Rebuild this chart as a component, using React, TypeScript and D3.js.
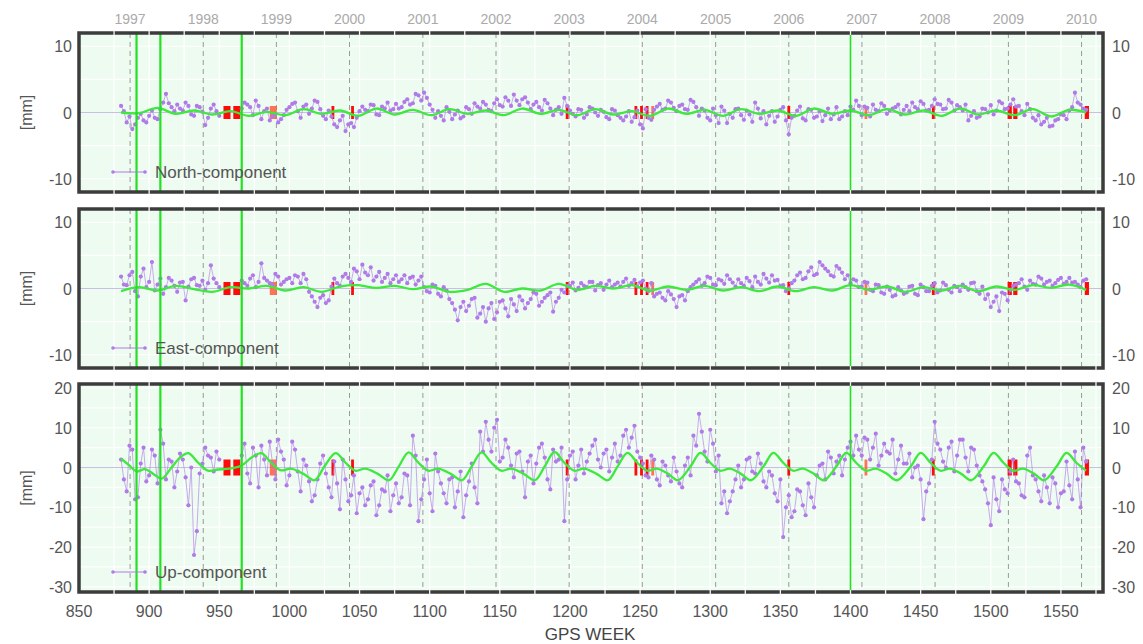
import React from "react";
import * as d3 from "d3";

// ---------- data ----------
// GPS weeks of the two interleaved sample sets
const weeksA = d3.range(880, 1569, 4);
const weeksB = d3.range(882, 1567, 4);

const northA = [
  1.0, -1.5, -2.5, -0.8, -1.2, -0.5, -0.8, 0.5, 2.8, 0.8,
  1.2, 0.3, 1.0, -0.5, 0.8, -1.9, 0.6, 0.2, null, null,
  null, null, 1.5, 0.8, 1.8, -1.0, 0.6, -0.6, -1.5, -0.4,
  0.8, 1.5, -0.8, 1.2, 0.6, 1.6, -0.5, 0.3, -1.8, -1.2,
  -2.8, -1.6, -0.8, 0.9, 0.2, 1.1, -0.4, 0.6, 0.3, 1.3,
  0.8, 2.0, 1.4, 2.6, 3.0, 1.2, -0.8, -0.5, 0.8, -1.0,
  0.3, -0.6, 0.5, 1.4, 0.6, 1.2, 0.2, 2.0, 0.9, 1.8,
  2.7, 1.1, 2.3, 0.5, 1.6, 0.3, 1.4, -0.4, 0.8, 2.2,
  0.3, -0.6, 0.4, -0.3, 0.6, -0.5, 0.1, -1.0, 0.3, -0.8,
  -0.6, -1.4, 0.3, -2.4, -0.8, 0.4, 1.3, 0.6, 1.5, 0.2,
  1.2, 0.4, 1.6, -0.5, 0.3, -1.2, -0.4, 0.9, -1.6, -0.8,
  0.6, -1.1, -0.3, 1.5, -0.9, -1.8, 0.2, -0.6, 0.8, -3.3,
  -0.5, 0.9, -1.2, 0.4, -0.6, -1.3, 0.6, -0.3, -1.0, 0.2,
  0.9, 1.8, -0.4, 0.7, 1.2, 0.2, 1.0, 0.3, 0.8, -0.3,
  1.0, 1.5, 0.5, 1.3, 0.4, 2.0, 1.2, 0.6, 1.5, 1.1,
  0.3, -1.2, 0.2, -0.6, 0.5, 1.1, 0.3, 1.4, 0.6, 2.0,
  1.0, -0.4, 0.5, -1.2, -1.8, -0.8, -2.0, -1.0, -0.4, 0.3,
  3.0, 1.2, 0.4,
];
const northB = [
  0.2, -0.6, -1.8, -0.2, -1.5, 0.3, -1.0, 1.5, 1.4, 0.2,
  0.6, 1.5, -0.3, 1.0, 0.1, -0.8, 1.2, -0.5, null, null,
  null, 0.6, 1.2, -0.4, 1.0, 0.2, -1.2, -0.2, -1.0, 0.4,
  1.3, 0.2, 0.9, -0.2, 1.8, 0.5, -1.0, -0.6, -2.2, -0.5,
  -1.8, -2.2, 0.2, 0.4, 1.2, -0.3, 0.9, 1.5, 0.5, 0.6,
  1.6, 1.2, 2.8, 1.8, 2.2, 0.4, 0.2, -1.2, 0.1, -0.3,
  -0.9, 0.8, -0.2, 0.9, 1.6, 0.4, 1.4, 1.1, 2.3, 1.0,
  1.8, 2.0, 1.5, 1.2, 0.8, 1.9, 0.6, 0.4, -0.2, 1.0,
  -0.2, 0.5, -0.8, 0.8, 0.0, 0.4, -0.7, 0.5, -0.4, -1.2,
  0.2, -0.7, -1.8, 0.5, -1.1, 0.9, 0.4, 1.8, 0.7, 1.0,
  0.5, 1.9, 0.8, 0.6, -0.8, 0.6, -1.6, 0.3, -0.2, 0.5,
  -0.4, 0.3, -1.4, 0.6, 0.2, -0.5, -1.4, 0.4, -1.2, -0.8,
  0.3, -0.9, 0.5, -0.8, 0.2, -0.4, -1.0, 0.8, -0.6, -0.4,
  0.4, 1.0, 0.9, -0.6, 0.4, 1.4, -0.2, 0.6, 1.2, 0.4,
  0.2, 0.8, 1.7, 0.3, 1.0, 1.3, 0.5, 1.9, 0.3, 0.8,
  1.2, -0.5, -0.8, 0.6, 0.0, -0.3, 1.7, 0.5, 1.2, 0.9,
  0.2, 1.3, -0.8, -0.4, -1.4, -2.1, -1.2, -0.3, -1.0, 0.8,
  1.5, 0.6,
];

const eastA = [
  1.8, 0.5, 2.5, -1.2, 3.0, 1.0, -0.3, 1.5, 0.2, 1.2,
  -0.5, 1.0, 0.3, 1.6, 0.4, -0.2, 3.5, 0.8, null, null,
  null, null, 0.8, 1.5, 0.2, 3.8, 1.2, 0.5, 1.8, 1.0,
  1.6, 2.0, 0.8, 1.4, -1.2, -2.8, -1.0, -1.8, 1.5, 0.4,
  2.2, 1.0, 2.6, 3.6, 2.0, 1.2, 2.5, 1.6, 0.8, 2.0,
  1.4, 0.8, 1.8, 1.2, 0.2, -0.6, 0.4, -1.2, -0.3, -2.2,
  -4.8, -2.0, -2.6, -1.4, -3.8, -5.0, -2.2, -3.6, -1.8, -4.2,
  -2.4, -1.2, -3.0, -1.6, -0.8, -2.0, -1.0, -3.5, -1.4, -0.6,
  0.4, -0.3, 0.8, 0.2, 1.0, 0.5, -0.2, 1.2, 0.6, 0.3,
  1.5, 0.8, 0.3, 1.2, -0.4, -1.2, -0.6, -1.8, -0.9, -2.8,
  -1.0, -0.4, 0.6, 1.4, 0.8, 1.6, 0.5, 1.2, 2.0, 0.9,
  1.4, 0.4, 1.1, 1.8, 0.6, 1.5, 2.0, 1.3, 0.5, 0.0,
  1.2, 2.4, 1.6, 3.2, 2.2, 3.5, 2.6, 1.8, 3.0, 1.4,
  0.8, 1.2, 0.3, 0.9, -0.4, 0.5, -0.8, -0.2, -1.0, -0.3,
  -0.6, 0.4, -1.0, 0.2, -0.4, 0.8, -0.3, 0.5, -0.6, 0.2,
  0.6, -0.2, 0.9, -0.8, -1.6, -2.8, -1.2, -0.6, -1.8, 0.4,
  0.8, 0.3, 1.2, 0.6, 1.5, 1.0, 0.4, 1.3, 0.7, 1.6,
  1.0, 0.2, 1.4,
];
const eastB = [
  0.6, 2.0, -0.4, 1.8, 0.2, 4.0, 0.6, -0.8, 1.6, 0.4,
  0.9, -1.8, 1.4, 0.5, 1.2, 0.8, 1.5, 0.2, null, null,
  null, 1.2, 0.4, 2.0, 1.0, 1.6, 0.8, 2.2, 0.6, 1.4,
  0.8, 1.8, 2.2, -0.5, -2.0, -1.4, -2.2, 0.3, 0.8, 1.8,
  1.6, 3.0, 1.4, 2.4, 3.2, 1.8, 1.0, 2.2, 1.4, 1.0,
  2.0, 1.6, 0.6, 1.8, -0.4, 0.6, -0.8, 0.2, -1.6, -3.2,
  -2.8, -3.4, -1.6, -4.4, -2.8, -3.0, -4.6, -2.0, -3.0, -1.6,
  -3.4, -1.8, -2.2, -0.6, -2.6, -1.4, -0.6, -2.0, -0.2, 0.4,
  0.9, 0.1, 0.4, 1.0, -0.3, 0.8, 0.6, 0.2, 0.9, 1.0,
  0.4, 1.3, 0.9, 0.0, 0.8, -0.8, -1.4, -0.4, -1.6, -1.2,
  -1.8, 0.2, 1.0, 0.4, 1.8, 0.6, 1.4, 0.7, 1.4, 0.3,
  0.8, 1.6, 0.2, 1.0, 2.2, 0.9, 1.2, 0.4, -0.4, 0.8,
  2.0, 1.4, 2.6, 2.0, 4.0, 3.0, 2.0, 3.4, 2.4, 2.0,
  1.4, 0.2, 1.0, -0.2, 0.6, -0.6, 0.3, -1.2, 0.2, -0.8,
  0.3, -0.8, 0.6, -0.4, 0.4, -0.6, 0.9, -0.2, 0.4, -0.4,
  0.2, 0.8, -0.4, 0.3, -0.9, -2.0, -3.4, -0.8, -0.2, 0.6,
  1.4, -0.2, 0.7, 1.8, 0.6, 1.2, 0.8, 1.6, 1.0, 0.9,
  0.6, 1.2,
];

const upA = [
  2.0, -6.0, 4.5, -7.5, 5.0, -2.0, 3.0, 9.5, -3.0, 1.5,
  -1.0, 2.0, -9.5, -22.0, -1.5, 5.0, 2.5, 4.0, null, null,
  null, null, 6.0, -4.0, 3.0, 5.5, -2.0, 1.0, 7.0, 2.0,
  -2.0, 4.5, -6.0, 0.5, -8.5, -3.0, 3.0, -5.0, 1.5, -10.5,
  -3.0, -7.0, -11.5, -5.0, -8.0, -3.5, -9.5, -6.0, -11.0, -4.0,
  -7.5, -2.0, 8.0, -13.5, -3.0, -6.5, 3.5, -4.0, -9.0, -2.5,
  -6.0, -12.5, -3.5, -5.0, 9.0, 11.5, 4.0, 12.0, 2.5, 5.0,
  -2.5, 4.0, -7.5, 3.0, 1.0, 6.0, -3.0, 4.5, 2.0, -13.5,
  3.0, -3.0, 4.5, 1.5, 5.5, 2.0, 3.5, -1.0, 6.0, 3.0,
  9.5, 7.5, 4.0, 1.0, -2.5, 2.0, -4.5, 0.5, -3.5, -1.0,
  -5.0, 2.5, 8.0, 13.5, 4.0, 9.5, -1.0, -9.0, -11.5, -6.0,
  0.5, -3.0, 2.5, -1.5, 1.0, -5.0, -2.0, -8.5, -17.5, -7.0,
  -11.0, -6.0, -12.0, -7.5, -2.0, 1.0, 4.0, -1.5, 3.0, 2.0,
  6.5, 8.0, 3.0, 7.0, 5.0, 0.5, 6.0, 3.5, -1.5, 5.5,
  1.0, -2.5, 0.5, -13.0, -4.0, 11.5, 4.5, 0.0, 6.5, 3.0,
  7.0, -1.0, 4.5, -2.0, -5.5, -14.5, -8.0, -3.0, -6.5, 2.0,
  -4.0, -7.5, 5.0, -3.0, -8.5, -5.0, -2.5, -10.0, -6.0, -4.5,
  4.0, -10.0, 1.5,
];
const upB = [
  -3.0, 5.5, -8.0, 1.0, -3.5, 4.5, -4.0, 6.0, 2.0, -5.0,
  3.5, -2.5, 0.0, -16.0, 1.0, 3.0, -1.0, 2.0, null, null,
  null, 3.0, -1.5, 5.0, -5.0, 2.0, 6.5, -3.0, 4.0, -4.5,
  6.5, -1.0, 2.0, -3.5, -7.0, 1.0, -1.5, -7.5, -4.0, 2.0,
  -8.5, -2.0, -6.5, -9.5, -4.5, -12.0, -5.5, -2.0, -7.0, -9.0,
  -1.5, -9.5, 3.0, -8.0, 2.0, -11.0, -1.0, -6.5, -3.0, -10.0,
  -1.0, -7.0, 1.0, -9.0, 4.0, 7.0, 10.0, 1.5, 7.0, 0.5,
  3.5, -1.0, 1.5, -4.0, 5.0, 2.5, -5.5, 1.5, 5.0, -3.0,
  4.0, 0.5, -1.5, 3.5, 7.0, 0.0, 4.5, 2.5, 1.5, 8.0,
  5.0, 10.5, 2.5, -2.0, 3.0, -3.0, 1.5, -2.0, 2.5, -4.0,
  0.5, -2.0, 5.5, 9.0, 1.5, 6.0, 3.0, -6.0, -8.5, -3.0,
  -5.0, 2.0, -1.0, 3.5, -3.5, -1.0, -6.5, -3.0, -10.0, -12.5,
  -5.5, -9.5, -4.0, -10.0, 0.5, -3.0, 2.5, 1.5, -2.0, 5.0,
  3.0, 4.5, 7.5, 2.0, 8.5, 3.0, 4.0, 7.0, 2.0, 1.0,
  3.5, 0.0, -3.0, -6.0, 2.0, 6.0, 1.5, 5.0, -1.0, 7.0,
  2.5, 5.0, 0.5, -3.5, -9.0, -2.5, -11.0, -5.5, -1.0, -3.5,
  -7.0, 3.0, -2.0, -6.0, -2.0, -9.0, -4.0, -6.5, 1.5, -8.0,
  -3.0, 5.0,
];

// seasonal model curves (knots)
const horizSeasonWeeks = [
  880, 893, 906, 919, 932, 945, 958, 971, 984, 997, 1010, 1023, 1036, 1049, 1062, 1075,
  1088, 1101, 1114, 1127, 1140, 1153, 1166, 1179, 1192, 1205, 1218, 1231, 1244, 1257,
  1270, 1283, 1296, 1309, 1322, 1335, 1348, 1361, 1374, 1387, 1400, 1413, 1426, 1439,
  1452, 1465, 1478, 1491, 1504, 1517, 1530, 1543, 1556, 1568,
];
const northSeason = [
  0.0, -0.1, 0.7, -0.2, 0.3, -0.3, 0.2, -0.5, 0.1, -0.4, 0.5, -0.2, 0.3, -0.5, 0.6, -0.3,
  0.4, -0.4, 0.5, -0.2, 0.3, -0.4, 0.6, -0.2, 0.4, -0.4, 0.5, -0.3, 0.2, -0.5,
  0.6, -0.2, 0.4, -0.5, 0.5, -0.2, 0.3, -0.5, 0.6, -0.2, 0.3, -0.4, 0.5, -0.3,
  0.3, -0.5, 0.6, -0.3, 0.3, -0.4, 0.5, -0.6, 0.4, 0.0,
];
const eastSeason = [
  -0.4, 0.2, -0.3, 0.4, -0.1, -0.5, 0.2, 0.0, 0.4, -0.3, 0.2, -0.5, 0.3, 0.5, 0.1, 0.4,
  -0.1, 0.3, -0.5, -0.2, 0.7, -0.5, 0.0, -0.3, 0.7, -0.2, 0.4, 0.0, 0.5, -0.3,
  0.3, -0.2, 0.4, -0.3, 0.2, -0.4, 0.3, -0.4, 0.2, -0.3, 0.5, -0.2, 0.3, -0.5,
  0.2, -0.3, 0.4, -0.4, 0.3, -0.2, 0.5, 0.1, 0.6, -0.2,
];
const upSeasonWeeks = [
  880, 886, 891, 897, 903, 909, 916, 922, 928, 935, 942, 949, 957, 966, 973, 980,
  987, 994, 1001, 1010, 1018, 1025, 1033, 1040, 1047, 1054, 1063, 1071, 1078, 1085,
  1092, 1099, 1106, 1115, 1123, 1130, 1137, 1144, 1151, 1158, 1167, 1175, 1182, 1189,
  1196, 1203, 1210, 1219, 1227, 1234, 1241, 1248, 1255, 1262, 1270, 1277, 1286, 1293,
  1300, 1307, 1314, 1322, 1329, 1338, 1345, 1352, 1359, 1366, 1374, 1381, 1390, 1397,
  1404, 1411, 1418, 1426, 1433, 1443, 1450, 1457, 1464, 1471, 1479, 1486, 1495, 1502,
  1509, 1516, 1523, 1531, 1538, 1547, 1554, 1561, 1568,
];
const upSeason = [
  2.2, 0.5, -1.0, -0.4, -1.6, -2.8, 0.0, 2.5, 3.6, 1.2, -0.8, -0.5, -0.3, 0.5, 2.5, 3.6,
  1.2, -0.7, -0.3, -1.6, -3.2, 0.3, 3.6, 1.2, -0.8, -0.3, -1.6, -3.2, 0.3, 3.8,
  1.2, -0.8, -0.3, -1.6, -3.2, 0.3, 3.8, 1.2, -0.8, -0.3, -1.6, -3.2, 0.3, 3.9,
  1.2, -0.8, -0.3, -1.6, -3.2, 0.3, 3.7, 1.2, -0.8, -0.3, -1.6, -3.2, 0.3, 3.7,
  1.2, -0.8, -0.3, -1.6, -3.2, 0.3, 3.7, 1.2, -0.8, -0.3, -1.6, -3.2, 0.3, 3.7,
  1.2, -0.8, -0.3, -1.6, -3.2, 0.3, 3.7, 1.2, -0.8, -0.3, -1.6, -3.2, 0.3, 3.7,
  1.2, -0.8, -0.3, -1.6, -3.2, 0.3, 3.7, 1.2, -0.8,
];

// discontinuities / events
const breakWeeks = [891, 908, 966, 1400];
const markerStart = [953, 960, 986, 1030, 1044, 1197, 1246, 1250, 1254, 1258, 1355, 1410, 1458, 1512, 1516, 1567];
const markerEnd = [958, 965, 991, 1032, 1046, 1199, 1248, 1252, 1256, 1260, 1357, 1412, 1460, 1515, 1519, 1570];
const markerLight = [false, false, true, false, false, false, false, false, false, true, false, true, false, false, false, false];

const yearLabels = [1997, 1998, 1999, 2000, 2001, 2002, 2003, 2004, 2005, 2006, 2007, 2008, 2009, 2010];
const xTicks = [850, 900, 950, 1000, 1050, 1100, 1150, 1200, 1250, 1300, 1350, 1400, 1450, 1500, 1550];
const horizTicks = [10, 0, -10];
const upTicks = [20, 10, 0, -10, -20, -30];

// ---------- layout ----------
const W = 1143, H = 644;
const X0 = 79, X1 = 1103;
const x = d3.scaleLinear().domain([850, 1580]).range([X0, X1]);
const gpsWeekOfYear = (y: number) => (Date.UTC(y, 0, 1) - Date.UTC(1980, 0, 6)) / (7 * 864e5);

type Pt = [number, number | null];
const merge = (a: (number | null)[], b: (number | null)[]): Pt[] =>
  [...weeksA.map((w, i) => [w, a[i]] as Pt), ...weeksB.map((w, i) => [w, b[i]] as Pt)].sort((p, q) => p[0] - q[0]);

const panels = [
  { name: "North-component", pts: merge(northA, northB), sw: horizSeasonWeeks, sv: northSeason, top: 33, bottom: 192, dom: [-12, 12], ticks: horizTicks, grid: d3.range(-10, 11, 5), mh: 13 },
  { name: "East-component", pts: merge(eastA, eastB), sw: horizSeasonWeeks, sv: eastSeason, top: 209, bottom: 368, dom: [-12, 12], ticks: horizTicks, grid: d3.range(-10, 11, 5), mh: 13 },
  { name: "Up-component", pts: merge(upA, upB), sw: upSeasonWeeks, sv: upSeason, top: 384, bottom: 592, dom: [-31.3, 21], ticks: upTicks, grid: d3.range(-30, 21, 5), mh: 16 },
];

const PURPLE = "#b07ae8";
const GREEN = "#3ee83e";
const FONT = "'Liberation Sans', Arial, Helvetica, sans-serif";

function Panel({ p }: { p: typeof panels[number] }) {
  const y = d3.scaleLinear().domain(p.dom).range([p.bottom, p.top]);
  const line = d3.line<Pt>()
    .defined((d) => d[1] != null)
    .x((d) => x(d[0]))
    .y((d) => y(d[1] as number));
  const season = d3.line<number>()
    .x((_, i) => x(p.sw[i]))
    .y((d) => y(d))
    .curve(d3.curveCatmullRom.alpha(0.5));
  const mid = (p.top + p.bottom) / 2;
  const legendY = p.bottom - 20;
  return (
    <g>
      <rect x={X0} y={p.top} width={X1 - X0} height={p.bottom - p.top} fill="#edfbf0" />
      {d3.range(850, 1580, 25).map((w) => (
        <line key={"vg" + w} x1={x(w)} x2={x(w)} y1={p.top} y2={p.bottom} stroke="#ffffff" strokeWidth={1.3} />
      ))}
      {p.grid.map((v) => (
        <line key={"hg" + v} x1={X0} x2={X1} y1={y(v)} y2={y(v)} stroke="#ffffff" strokeWidth={1.2} />
      ))}
      {yearLabels.map((yr) => (
        <line key={"yl" + yr} x1={x(gpsWeekOfYear(yr))} x2={x(gpsWeekOfYear(yr))} y1={p.top} y2={p.bottom}
          stroke="#9a9a9a" strokeWidth={1} strokeDasharray="5,4" />
      ))}
      <line x1={X0} x2={X1} y1={y(0)} y2={y(0)} stroke="#cbbde6" strokeWidth={1} />
      {markerStart.map((s, i) => (
        <rect key={"m" + i} x={x(s)} y={y(0) - p.mh / 2} width={x(markerEnd[i]) - x(s)} height={p.mh}
          fill={markerLight[i] ? "#ff5a3a" : "#ff0a0a"} opacity={markerLight[i] ? 0.85 : 1} />
      ))}
      <path d={line(p.pts) || ""} fill="none" stroke={PURPLE} strokeWidth={0.9} opacity={0.7} />
      {p.pts.filter((d) => d[1] != null).map((d) => (
        <circle key={"c" + d[0]} cx={x(d[0])} cy={y(d[1] as number)} r={2.1} fill={PURPLE} />
      ))}
      <path d={season(p.sv) || ""} fill="none" stroke={GREEN} strokeWidth={2.3} />
      {breakWeeks.map((w, i) => (
        <line key={"b" + w} x1={x(w)} x2={x(w)} y1={p.top} y2={p.bottom} stroke="#22e022" strokeWidth={i === 3 ? 1.6 : 2.2} />
      ))}
      <rect x={X0} y={p.top} width={X1 - X0} height={p.bottom - p.top} fill="none" stroke="#3c3c3c" strokeWidth={3.5} />
      {d3.range(875, 1580, 25).map((w) => (
        <g key={"tk" + w}>
          <line x1={x(w)} x2={x(w)} y1={p.top - 2} y2={p.top + 2} stroke="#f4f4f4" strokeWidth={1.3} />
          <line x1={x(w)} x2={x(w)} y1={p.bottom - 2} y2={p.bottom + 2} stroke="#f4f4f4" strokeWidth={1.3} />
        </g>
      ))}
      {p.ticks.map((v) => (
        <g key={"t" + v}>
          <text x={72} y={y(v) + 6} textAnchor="end" fontSize={16} fill="#555" fontFamily={FONT}>{v}</text>
          <text x={1112} y={y(v) + 6} textAnchor="start" fontSize={16} fill="#555" fontFamily={FONT}>{v}</text>
        </g>
      ))}
      <text transform={`translate(32,${mid}) rotate(-90)`} textAnchor="middle" fontSize={16} fill="#555" fontFamily={FONT}>[mm]</text>
      <line x1={112} x2={146} y1={legendY} y2={legendY} stroke={PURPLE} strokeWidth={1} />
      <circle cx={113} cy={legendY} r={1.8} fill={PURPLE} />
      <circle cx={145} cy={legendY} r={1.8} fill={PURPLE} />
      <text x={155} y={legendY + 6} fontSize={17} fill="#555" fontFamily={FONT}>{p.name}</text>
    </g>
  );
}

export default function App() {
  return (
    <svg width={W} height={H} style={{ position: "absolute", left: 0, top: 0, background: "#fff" }}>
      {yearLabels.map((yr) => (
        <text key={yr} x={x(gpsWeekOfYear(yr))} y={24} textAnchor="middle" fontSize={14} fill="#aaa" fontFamily={FONT}>{yr}</text>
      ))}
      {panels.map((p) => <Panel key={p.name} p={p} />)}
      {xTicks.map((t) => (
        <text key={t} x={x(t)} y={617} textAnchor="middle" fontSize={16} fill="#555" fontFamily={FONT}>{t}</text>
      ))}
      <text x={590} y={640} textAnchor="middle" fontSize={17} fill="#444" fontFamily={FONT}>GPS WEEK</text>
    </svg>
  );
}
